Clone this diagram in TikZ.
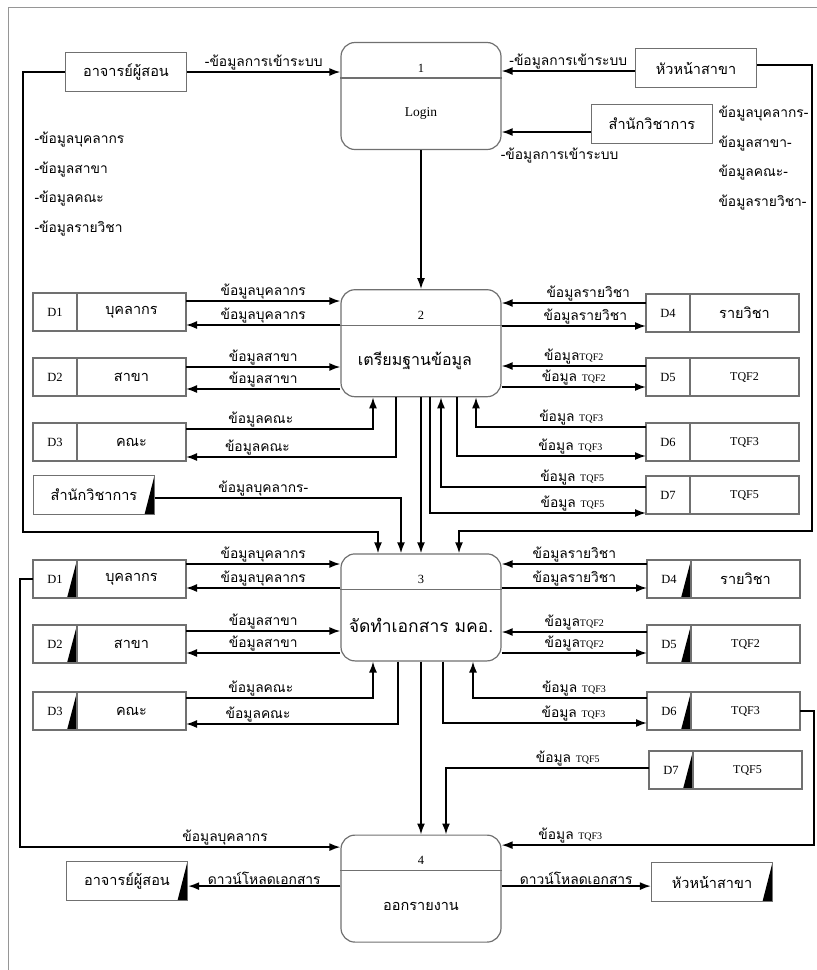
\documentclass[tikz,border=0pt]{standalone}
\usepackage{fontspec}
\setmainfont{Liberation Serif}
\newfontfamily\thaifont[Script=Thai]{Loma}
\usepackage{tikz}
\usetikzlibrary{shapes,arrows.meta,positioning}
\definecolor{boxgray}{RGB}{112,112,112}
\definecolor{framegray}{RGB}{150,150,150}
\newcommand{\thl}{\thaifont\fontsize{13.8}{15}\selectfont}
\newcommand{\tqfl}[1]{{\rmfamily\fontsize{10}{11}\selectfont TQF#1}}
\tikzstyle{proc} = [rectangle, rounded corners=14pt, draw=boxgray, line width=1.2pt, minimum width=160pt, minimum height=107pt, inner sep=0pt]
\tikzstyle{pnum} = [font=\rmfamily\fontsize{12.5}{14}\selectfont, inner sep=0pt]
\tikzstyle{pname} = [font=\thaifont\fontsize{17.5}{19}\selectfont, inner sep=0pt]
\tikzstyle{ent} = [rectangle, draw=boxgray, line width=1.2pt, minimum width=121pt, minimum height=39pt, inner sep=0pt, font=\thaifont\fontsize{14.5}{16}\selectfont]
\tikzstyle{darkcorner} = [path picture={\fill[black] (path picture bounding box.north east) -- (path picture bounding box.south east) -- ([xshift=-10pt]path picture bounding box.south east) -- cycle;}]
\tikzstyle{sid} = [rectangle, draw=boxgray, line width=1.2pt, minimum width=44pt, minimum height=38pt, inner sep=0pt, outer sep=0pt, font=\rmfamily\fontsize{12.5}{14}\selectfont]
\tikzstyle{sname} = [rectangle, draw=boxgray, line width=1.2pt, minimum width=109pt, minimum height=38pt, inner sep=0pt, outer sep=0pt, font=\thaifont\fontsize{14.5}{16}\selectfont]
\tikzstyle{stqf} = [font=\rmfamily\fontsize{12}{13}\selectfont]
\tikzstyle{note} = [font=\thaifont\fontsize{13.8}{29.7}\selectfont, align=left, anchor=west]
\tikzstyle{lbl} = [font=\thl, inner sep=1pt]
\tikzstyle{tedge} = [draw, line width=1.7pt, >={Latex[length=11pt,width=8pt]}, ->]

\begin{document}
\begin{tikzpicture}[x=1pt, y=-1pt]
\useasboundingbox (0,0) rectangle (817,970);
\draw[framegray, line width=1pt] (8,970) -- (8,7) -- (817,7);

% processes =============================
\node[proc] (p1) at (421,96) {};
\node[proc, below=139pt of p1] (p2) {};
\node[proc, below=156pt of p2] (p3) {};
\node[proc, below=173pt of p3] (p4) {};

\draw[boxgray, line width=1.2pt] ([yshift=-36pt]p1.north west) -- ([yshift=-36pt]p1.north east);
\draw[boxgray, line width=1.2pt] ([yshift=-36pt]p2.north west) -- ([yshift=-36pt]p2.north east);
\draw[boxgray, line width=1.2pt] ([yshift=-36pt]p3.north west) -- ([yshift=-36pt]p3.north east);
\draw[boxgray, line width=1.2pt] ([yshift=-36pt]p4.north west) -- ([yshift=-36pt]p4.north east);

\node[pnum] (p1num) at ([yshift=-26pt]p1.north) {1};
\node[pnum] (p2num) at ([yshift=-26pt]p2.north) {2};
\node[pnum] (p3num) at ([yshift=-26pt]p3.north) {3};
\node[pnum] (p4num) at ([yshift=-26pt]p4.north) {4};

\node[pname, font=\rmfamily\fontsize{13.5}{15}\selectfont] (p1name) at ([yshift=-72pt]p1.north) {Login};
\node[pname, font=\thaifont\fontsize{16}{18}\selectfont] (p2name) at ([xshift=-6pt, yshift=-72pt]p2.north) {เตรียมฐานข้อมูล};
\node[pname] (p3name) at ([yshift=-72pt]p3.north) {จัดทำเอกสาร มคอ.};
\node[pname, font=\thaifont\fontsize{14.5}{16}\selectfont] (p4name) at ([yshift=-72pt]p4.north) {ออกรายงาน};

% external entities =====================
\node[ent] (ent1) at (126,72) {อาจารย์ผู้สอน};
\node[ent] (ent2) at (696,68) {หัวหน้าสาขา};
\node[ent] (ent3) at (652,124) {สำนักวิชาการ};
\node[ent, darkcorner] (ent4) at (94,495) {สำนักวิชาการ};
\node[ent, darkcorner] (ent5) at (127,881) {อาจารย์ผู้สอน};
\node[ent, darkcorner] (ent6) at (712,882) {หัวหน้าสาขา};

\node[note] (lnote) at (31,184) {-ข้อมูลบุคลากร\\-ข้อมูลสาขา\\-ข้อมูลคณะ\\-ข้อมูลรายวิชา};
\node[note] (rnote) at (715,158) {ข้อมูลบุคลากร-\\ข้อมูลสาขา-\\ข้อมูลคณะ-\\ข้อมูลรายวิชา-};

% data stores, process 2 ================
\node[sid] (d1a) at (55,312) {D1};
\node[sname, right=0pt of d1a] (n1a) {บุคลากร};
\node[sid, below=27pt of d1a] (d2a) {D2};
\node[sname, right=0pt of d2a] (n2a) {สาขา};
\node[sid, below=27pt of d2a] (d3a) {D3};
\node[sname, right=0pt of d3a] (n3a) {คณะ};

\node[sid] (d4a) at (668,313) {D4};
\node[sname, right=0pt of d4a] (n4a) {รายวิชา};
\node[sid, below=26pt of d4a] (d5a) {D5};
\node[sname, stqf, right=0pt of d5a] (n5a) {TQF2};
\node[sid, below=27pt of d5a] (d6a) {D6};
\node[sname, stqf, right=0pt of d6a] (n6a) {TQF3};
\node[sid, below=15pt of d6a] (d7a) {D7};
\node[sname, stqf, right=0pt of d7a] (n7a) {TQF5};

% data stores, process 3 ================
\node[sid, darkcorner] (d1b) at (55,579) {D1};
\node[sname, right=0pt of d1b] (n1b) {บุคลากร};
\node[sid, darkcorner, below=27pt of d1b] (d2b) {D2};
\node[sname, right=0pt of d2b] (n2b) {สาขา};
\node[sid, darkcorner, below=29pt of d2b] (d3b) {D3};
\node[sname, right=0pt of d3b] (n3b) {คณะ};

\node[sid, darkcorner] (d4b) at (669,579) {D4};
\node[sname, right=0pt of d4b] (n4b) {รายวิชา};
\node[sid, darkcorner, below=27pt of d4b] (d5b) {D5};
\node[sname, stqf, right=0pt of d5b] (n5b) {TQF2};
\node[sid, darkcorner, below=29pt of d5b] (d6b) {D6};
\node[sname, stqf, right=0pt of d6b] (n6b) {TQF3};
\node[sid, darkcorner] (d7b) at (671,770) {D7};
\node[sname, stqf, right=0pt of d7b] (n7b) {TQF5};

%edges
\path[tedge] (ent1.east) -- (ent1.east -| p1.west) node[lbl, midway, above] {-ข้อมูลการเข้าระบบ};
\path[tedge] ([yshift=-3pt]ent2.west) -- ([yshift=-3pt]ent2.west -| p1.east) node[lbl, midway, above] {-ข้อมูลการเข้าระบบ};
\path[tedge] ([yshift=-8pt]ent3.west) -- ([yshift=-8pt]ent3.west -| p1.east) node[lbl, pos=0.35, below=14pt] {-ข้อมูลการเข้าระบบ};

\path[tedge] (p1.south) -- (p2.north);
\path[tedge] (p2.south) -- (p3.north);
\path[tedge] (p3.south) -- (p4.north);

\path[tedge] (ent1.west) -| (23,532) -| ([xshift=-43pt]p3.north);
\path[tedge] ([yshift=3pt]ent2.east) -| (812,531) -| ([xshift=38pt]p3.north);
\path[tedge] ([yshift=-3pt]ent4.east) -| ([xshift=-20pt]p3.north) node[lbl, pos=0.22, above] {ข้อมูลบุคลากร-};

% process 2, left
\path[tedge] ([yshift=11pt]n1a.east) -- ([yshift=11pt]n1a.east -| p2.west) node[lbl, midway, above] {ข้อมูลบุคลากร};
\path[tedge] ([yshift=-13pt]n1a.east -| p2.west) -- ([yshift=-13pt]n1a.east) node[lbl, midway, above] {ข้อมูลบุคลากร};
\path[tedge] ([yshift=10pt]n2a.east) -- ([yshift=10pt]n2a.east -| p2.west) node[lbl, midway, above] {ข้อมูลสาขา};
\path[tedge] ([yshift=-12pt]n2a.east -| p2.west) -- ([yshift=-12pt]n2a.east) node[lbl, midway, above] {ข้อมูลสาขา};
\path[tedge] ([yshift=13pt]n3a.east) -| ([xshift=-48pt]p2.south) node[lbl, pos=0.2, above] {ข้อมูลคณะ};
\path[tedge] ([xshift=-25pt]p2.south) |- ([yshift=-15pt]n3a.east) node[lbl, pos=0.83, above] {ข้อมูลคณะ};

% process 2, right
\path[tedge] ([yshift=10pt]d4a.west) -- ([yshift=10pt]d4a.west -| p2.east) node[lbl, pos=0.4, above] {ข้อมูลรายวิชา};
\path[tedge] ([yshift=-13pt]d4a.west -| p2.east) -- ([yshift=-13pt]d4a.west) node[lbl, pos=0.58, above] {ข้อมูลรายวิชา};
\path[tedge] ([yshift=11pt]d5a.west) -- ([yshift=11pt]d5a.west -| p2.east) node[lbl, midway, above] {ข้อมูล\tqfl{2}};
\path[tedge] ([yshift=-10pt]d5a.west -| p2.east) -- ([yshift=-10pt]d5a.west) node[lbl, midway, above] {ข้อมูล \tqfl{2}};
\path[tedge] ([yshift=15pt]d6a.west) -| ([xshift=55pt]p2.south) node[lbl, pos=0.22, above] {ข้อมูล \tqfl{3}};
\path[tedge] ([xshift=36pt]p2.south) |- ([yshift=-14pt]d6a.west) node[lbl, pos=0.8, above] {ข้อมูล \tqfl{3}};
\path[tedge] ([yshift=8pt]d7a.west) -| ([xshift=20pt]p2.south) node[lbl, pos=0.18, above] {ข้อมูล \tqfl{5}};
\path[tedge] ([xshift=9pt]p2.south) |- ([yshift=-18pt]d7a.west) node[lbl, pos=0.83, above] {ข้อมูล \tqfl{5}};

% process 3, left
\path[tedge] ([yshift=15pt]n1b.east) -- ([yshift=15pt]n1b.east -| p3.west) node[lbl, midway, above] {ข้อมูลบุคลากร};
\path[tedge] ([yshift=-9pt]n1b.east -| p3.west) -- ([yshift=-9pt]n1b.east) node[lbl, midway, above] {ข้อมูลบุคลากร};
\path[tedge] ([yshift=13pt]n2b.east) -- ([yshift=13pt]n2b.east -| p3.west) node[lbl, midway, above] {ข้อมูลสาขา};
\path[tedge] ([yshift=-9pt]n2b.east -| p3.west) -- ([yshift=-9pt]n2b.east) node[lbl, midway, above] {ข้อมูลสาขา};
\path[tedge] ([yshift=13pt]n3b.east) -| ([xshift=-48pt]p3.south) node[lbl, pos=0.2, above] {ข้อมูลคณะ};
\path[tedge] ([xshift=-23pt]p3.south) |- ([yshift=-13pt]n3b.east) node[lbl, pos=0.83, above] {ข้อมูลคณะ};

% process 3, right
\path[tedge] ([yshift=15pt]d4b.west) -- ([yshift=15pt]d4b.west -| p3.east) node[lbl, midway, above] {ข้อมูลรายวิชา};
\path[tedge] ([yshift=-9pt]d4b.west -| p3.east) -- ([yshift=-9pt]d4b.west) node[lbl, midway, above] {ข้อมูลรายวิชา};
\path[tedge] ([yshift=12pt]d5b.west) -- ([yshift=12pt]d5b.west -| p3.east) node[lbl, midway, above] {ข้อมูล\tqfl{2}};
\path[tedge] ([yshift=-9pt]d5b.west -| p3.east) -- ([yshift=-9pt]d5b.west) node[lbl, midway, above] {ข้อมูล\tqfl{2}};
\path[tedge] ([yshift=13pt]d6b.west) -| ([xshift=52pt]p3.south) node[lbl, pos=0.21, above] {ข้อมูล \tqfl{3}};
\path[tedge] ([xshift=22pt]p3.south) |- ([yshift=-12pt]d6b.west) node[lbl, pos=0.82, above] {ข้อมูล \tqfl{3}};
\path[tedge] ([yshift=2pt]d7b.west) -| ([xshift=25pt]p4.north) node[lbl, pos=0.2, above] {ข้อมูล \tqfl{5}};

% process 4
\path[tedge] (d1b.west) -- ++(-13,0) |- ([yshift=41.5pt]p4.west) node[lbl, pos=0.82, above] {ข้อมูลบุคลากร};
\path[tedge] (n6b.east) -- ++(14,0) |- ([yshift=43.5pt]p4.east) node[lbl, pos=0.89, above] {ข้อมูล \tqfl{3}};
\path[tedge] ([yshift=2.5pt]p4.west) -- ([yshift=2.5pt]p4.west -| ent5.east) node[lbl, midway, above] {ดาวน์โหลดเอกสาร};
\path[tedge] ([yshift=2.5pt]p4.east) -- ([yshift=2.5pt]p4.east -| ent6.west) node[lbl, midway, above] {ดาวน์โหลดเอกสาร};

\end{tikzpicture}
\end{document}
